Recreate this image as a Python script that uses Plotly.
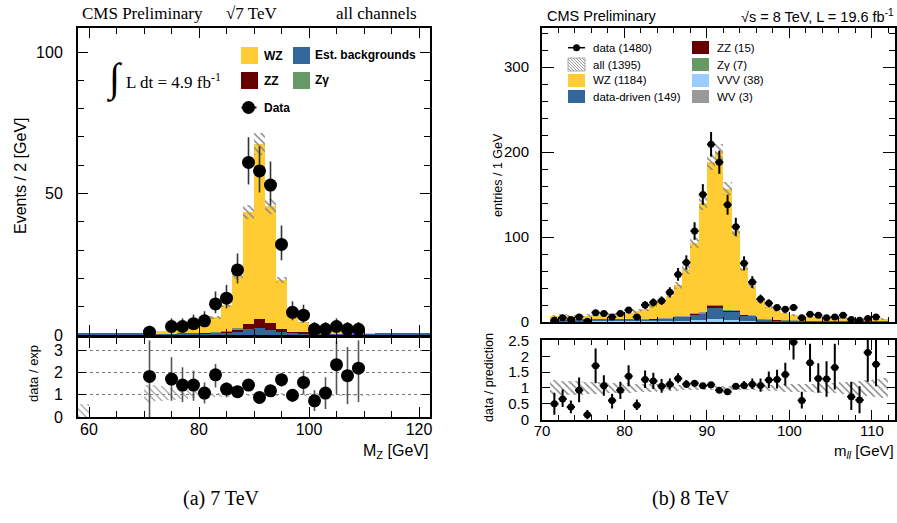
import plotly.graph_objects as go

W, H = 897, 523

# ---------------- (a) 7 TeV : bins of 2 GeV ----------------
a_centers = [59, 61, 63, 65, 67, 69, 71, 73, 75, 77, 79, 81, 83, 85, 87, 89, 91, 93,
             95, 97, 99, 101, 103, 105, 107, 109, 111, 113, 115, 117, 119, 121]
a_bkg = [0.4, 0.4, 0.4, 0.4, 0.4, 0.4, 0.4, 0.5, 0.5, 0.6, 0.6, 0.7, 0.8, 0.9, 1.1, 2.0,
         2.3, 1.8, 1.4, 0.9, 0.7, 0.6, 0.5, 0.5, 0.5, 0.4, 0.4, 0.4, 0.4, 0.4, 0.4, 0.4]
a_zz = [0, 0, 0, 0, 0, 0, 0, 0, 0, 0, 0, 0.1, 0.2, 0.5, 1.0, 1.9, 3.4, 2.4, 0.6, 0.3,
        0.2, 0.1, 0, 0, 0, 0, 0, 0, 0, 0, 0, 0]
a_zg = [0, 0, 0, 0, 0, 0, 0, 0, 0, 0, 0, 0, 0.1, 0.1, 0.2, 0.1, 0, 0, 0, 0, 0, 0, 0, 0,
        0, 0, 0, 0, 0, 0, 0, 0]
a_wz = [0, 0, 0, 0, 0, 0, 0.3, 1.0, 1.3, 1.6, 2.1, 3.5, 5.1, 9.0, 18.5, 39.5, 61.8, 41.3,
        17.5, 6.3, 3.6, 1.9, 1.3, 0.8, 0.5, 0.4, 0.1, 0, 0, 0, 0, 0]
a_unc = [0.06, 0.06, 0.06, 0.06, 0.06, 0.06, 0.06, 0.06, 0.06, 0.06, 0.06, 0.06, 0.06,
         0.06, 0.06, 0.06, 0.06, 0.06, 0.06, 0.06, 0.06, 0.06, 0.06, 0.06, 0.06, 0.06,
         0.06, 0.06, 0.06, 0.06, 0.06, 0.06]

a_data_x = [71, 75, 77, 79, 81, 83, 85, 87, 89, 91, 93, 95, 97, 99, 101, 103, 105, 107, 109]
a_data_y = [1, 3, 3, 4, 5, 11, 13, 23, 61, 58, 53, 32, 8, 7, 2, 2, 3, 2, 2]
a_data_up = [2.3, 2.9, 2.9, 3.2, 3.4, 4.4, 4.7, 5.8, 8.9, 8.7, 8.3, 6.7, 3.9, 3.7, 2.6, 2.6, 2.9, 2.6, 2.6]
a_data_dn = [0.8, 1.6, 1.6, 1.9, 2.2, 3.3, 3.6, 4.8, 7.8, 7.6, 7.3, 5.6, 2.8, 2.6, 1.3, 1.3, 1.6, 1.3, 1.3]

a_ratio_y = [1.83, 1.71, 1.44, 1.44, 1.08, 1.9, 1.26, 1.14, 1.44, 0.88, 1.18, 1.68, 0.98,
             1.56, 0.73, 1.08, 2.36, 1.86, 2.2]
a_ratio_up = [1.62, 0.99, 0.8, 0.65, 0.48, 0.49, 0.3, 0.27, 0.2, 0.15, 0.23, 0.29, 0.2,
              0.53, 0.48, 0.71, 1.09, 1.29, 1.25]
a_ratio_dn = [1.83, 0.98, 0.77, 0.71, 0.47, 0.57, 0.38, 0.26, 0.26, 0.15, 0.23, 0.32, 0.31,
              0.53, 0.46, 0.72, 1.33, 1.28, 1.53]

a_band_x = [59, 71, 73, 75, 77, 79, 81, 83, 85, 87, 89, 91, 93, 95, 97, 99, 101, 103, 105,
            107, 109, 111]
a_band_lo = [0.0, 0.65, 0.7, 0.75, 0.8, 0.84, 0.87, 0.9, 0.92, 0.94, 0.95, 0.95, 0.95, 0.94,
             0.94, 0.94, 0.94, 0.95, 0.95, 0.95, 0.96, 0.96]
a_band_hi = [0.6, 1.45, 1.4, 1.3, 1.25, 1.18, 1.14, 1.1, 1.08, 1.06, 1.05, 1.05, 1.05, 1.06,
             1.06, 1.06, 1.06, 1.05, 1.05, 1.05, 1.04, 1.04]

# ---------------- (b) 8 TeV : bins of 1 GeV ----------------
b_centers = [71.5, 72.5, 73.5, 74.5, 75.5, 76.5, 77.5, 78.5, 79.5, 80.5, 81.5, 82.5, 83.5,
             84.5, 85.5, 86.5, 87.5, 88.5, 89.5, 90.5, 91.5, 92.5, 93.5, 94.5, 95.5, 96.5,
             97.5, 98.5, 99.5, 100.5, 101.5, 102.5, 103.5, 104.5, 105.5, 106.5, 107.5,
             108.5, 109.5, 110.5, 111.5]
b_vvv = [0.5, 0.5, 0.5, 0.5, 0.6, 0.6, 0.6, 0.7, 0.7, 0.8, 0.8, 0.9, 1.0, 1.0, 1.2, 1.4,
         1.6, 2.0, 2.6, 3.5, 3.5, 2.6, 2.0, 1.6, 1.2, 1.0, 0.8, 0.7, 0.6, 0.5, 0.5, 0.4,
         0.4, 0.4, 0.3, 0.3, 0.3, 0.3, 0.3, 0.3, 0.3]
b_dd = [1, 2, 2, 2.5, 2.5, 3, 3, 3, 3, 3, 2.5, 2.5, 2.5, 3, 3, 4.5, 4.5, 7, 7, 14, 14, 10,
        10, 6, 6, 2, 2, 1.5, 1.5, 1.5, 1, 1, 1, 1, 1, 1, 0.5, 0.5, 0.5, 0.5, 0.5]
b_zz = [0, 0, 0, 0, 0, 0, 0, 0, 0, 0.1, 0.1, 0.1, 0.1, 0.2, 0.2, 0.3, 0.4, 0.6, 0.9, 1.8,
        1.8, 1.4, 1.0, 0.8, 0.6, 0.4, 0.3, 0.2, 0.2, 0.1, 0.1, 0.1, 0.1, 0.1, 0.1, 0, 0,
        0, 0, 0, 0]
b_zg = [0, 0, 0, 0, 0, 0, 0, 0.1, 0.1, 0.1, 0.1, 0.1, 0.1, 0.2, 0.2, 0.2, 0.3, 0.4, 0.5,
        0.7, 0.7, 0.5, 0.4, 0.3, 0.3, 0.2, 0.2, 0.1, 0.1, 0.1, 0.1, 0.1, 0, 0, 0, 0, 0,
        0, 0, 0, 0]
b_wv = [0, 0, 0, 0, 0, 0, 0, 0, 0, 0, 0.1, 0.1, 0.1, 0.1, 0.1, 0.1, 0.1, 0.2, 0.2, 0.2,
        0.2, 0.2, 0.2, 0.1, 0.1, 0.1, 0.1, 0.1, 0.1, 0.1, 0, 0, 0, 0, 0, 0, 0, 0, 0, 0, 0]
b_wz = [5.0, 5.0, 4.5, 4.5, 4.5, 4.5, 5.2, 5.7, 6.7, 7.0, 9.4, 11.8, 14.7, 19.0, 26.3,
        36.5, 55.1, 82.8, 128.8, 167.8, 179.8, 142.3, 93.4, 55.2, 33.8, 21.3, 14.6, 10.9,
        8.0, 5.7, 5.3, 4.4, 4.5, 3.5, 3.6, 3.2, 3.7, 3.2, 3.2, 3.2, 3.0]
b_unc = [0.24, 0.23, 0.22, 0.21, 0.2, 0.19, 0.18, 0.17, 0.16, 0.15, 0.14, 0.13, 0.12,
         0.11, 0.1, 0.09, 0.08, 0.07, 0.06, 0.05, 0.05, 0.05, 0.06, 0.07, 0.08, 0.09, 0.1,
         0.11, 0.12, 0.12, 0.13, 0.14, 0.15, 0.16, 0.17, 0.18, 0.2, 0.22, 0.25, 0.28, 0.32]

b_data_x = [71.5, 72.5, 73.5, 74.5, 75.5, 76.5, 77.5, 78.5, 79.5, 80.5, 81.5, 82.5, 83.5,
            84.5, 85.5, 86.5, 87.5, 88.5, 89.5, 90.5, 91.5, 92.5, 93.5, 94.5, 95.5, 96.5,
            97.5, 98.5, 99.5, 100.5, 101.5, 102.5, 103.5, 104.5, 105.5, 106.5, 107.5,
            108.5, 109.5, 110.5]
b_data_y = [2, 5, 3, 6, 1, 11, 10, 6, 10, 14, 6, 20, 23, 25, 35, 56, 70, 107, 150, 209,
            188, 138, 112, 69, 47, 27, 22, 17, 15, 17, 5, 9, 8, 5, 6, 8, 3, 2, 4, 6]
b_data_err = [1.4, 2.2, 1.7, 2.4, 1.0, 3.3, 3.2, 2.4, 3.2, 3.7, 2.4, 4.5, 4.8, 5.0, 5.9,
              7.5, 8.4, 10.3, 12.2, 14.5, 13.7, 11.7, 10.6, 8.3, 6.9, 5.2, 4.7, 4.1, 3.9,
              4.1, 2.2, 3.0, 2.8, 2.2, 2.4, 2.8, 1.7, 1.4, 2.0, 2.4]

b_ratio_x = [71.5, 72.5, 73.5, 74.5, 75.5, 76.5, 77.5, 78.5, 79.5, 80.5, 81.5, 82.5, 83.5,
             84.5, 85.5, 86.5, 87.5, 88.5, 89.5, 90.5, 91.5, 92.5, 93.5, 94.5, 95.5, 96.5,
             97.5, 98.5, 99.5, 100.5, 101.5, 102.5, 103.5, 104.5, 105.5, 107.5, 108.5,
             109.5, 110.5]
b_ratio_y = [0.5, 0.65, 0.4, 0.93, 0.15, 1.7, 1.07, 0.6, 0.93, 1.37, 0.45, 1.27, 1.22,
             1.05, 1.12, 1.3, 1.12, 1.15, 1.07, 1.1, 0.93, 0.88, 1.05, 1.08, 1.12, 1.08,
             1.25, 1.27, 1.43, 2.45, 0.6, 1.8, 1.3, 1.28, 1.65, 0.72, 0.62, 2.12, 1.75]
b_ratio_up = [0.35, 0.3, 0.2, 0.4, 0.15, 0.55, 0.33, 0.22, 0.27, 0.35, 0.18, 0.28, 0.26,
              0.23, 0.18, 0.17, 0.13, 0.1, 0.08, 0.08, 0.07, 0.07, 0.1, 0.14, 0.18, 0.22,
              0.27, 0.31, 0.37, 0.55, 0.28, 0.6, 0.48, 0.57, 0.75, 0.48, 0.43, 0.88, 0.8]
b_ratio_dn = [0.35, 0.25, 0.2, 0.38, 0.15, 0.55, 0.32, 0.25, 0.28, 0.32, 0.15, 0.27, 0.25,
              0.2, 0.17, 0.15, 0.12, 0.1, 0.08, 0.07, 0.06, 0.08, 0.09, 0.12, 0.15, 0.2,
              0.25, 0.29, 0.35, 0.55, 0.25, 0.6, 0.45, 0.56, 0.7, 0.42, 0.42, 0.92, 0.7]

# ---------------- colours ----------------
C_WZ = "#FFCC33"
C_ZZ = "#660000"
C_BKG = "#336699"
C_ZG = "#669966"
C_VVV = "#99CCFF"
C_WV = "#999999"
HATCH = dict(shape="\\", size=5, solidity=0.3, fgcolor="#8a8a8a", bgcolor="rgba(0,0,0,0)")
HATCH_L = dict(shape="\\", size=5, solidity=0.25, fgcolor="#a0a0a0", bgcolor="rgba(0,0,0,0)")


def addsum(*arrs):
    return [sum(v) for v in zip(*arrs)]


fig = go.Figure()


def stack_bar(x, base, h, color, width, xa, ya):
    fig.add_trace(go.Bar(x=x, y=h, base=base, width=width, marker=dict(color=color, line=dict(width=0)),
                         xaxis=xa, yaxis=ya, showlegend=False, hoverinfo="skip"))


# ---- (a) main stack ----
a_b1 = a_bkg
a_b2 = addsum(a_bkg, a_zz)
a_b3 = addsum(a_bkg, a_zz, a_zg)
a_tot = addsum(a_bkg, a_zz, a_zg, a_wz)
stack_bar(a_centers, [0] * len(a_centers), a_bkg, C_BKG, 2, "x", "y")
stack_bar(a_centers, a_b1, a_zz, C_ZZ, 2, "x", "y")
stack_bar(a_centers, a_b2, a_zg, C_ZG, 2, "x", "y")
stack_bar(a_centers, a_b3, a_wz, C_WZ, 2, "x", "y")
fig.add_trace(go.Bar(x=a_centers, y=[t * u * 2 for t, u in zip(a_tot, a_unc)],
                     base=[t * (1 - u) for t, u in zip(a_tot, a_unc)], width=2,
                     marker=dict(color="rgba(0,0,0,0)", line=dict(width=0), pattern=HATCH),
                     xaxis="x", yaxis="y", showlegend=False, hoverinfo="skip"))
fig.add_trace(go.Scatter(x=a_data_x, y=a_data_y, mode="markers", xaxis="x", yaxis="y",
                         marker=dict(color="black", size=13),
                         error_y=dict(type="data", symmetric=False, array=a_data_up,
                                      arrayminus=a_data_dn, width=0, thickness=1.6, color="#333"),
                         showlegend=False, hoverinfo="skip"))
# ---- (a) ratio ----
fig.add_trace(go.Bar(x=a_band_x, y=[h - l for h, l in zip(a_band_hi, a_band_lo)], base=a_band_lo,
                     width=2, marker=dict(color="rgba(0,0,0,0)", line=dict(width=0), pattern=HATCH_L),
                     xaxis="x2", yaxis="y2", showlegend=False, hoverinfo="skip"))
fig.add_trace(go.Scatter(x=a_data_x, y=a_ratio_y, mode="markers", xaxis="x2", yaxis="y2",
                         marker=dict(color="black", size=13),
                         error_y=dict(type="data", symmetric=False, array=a_ratio_up,
                                      arrayminus=a_ratio_dn, width=0, thickness=1.6, color="#555"),
                         showlegend=False, hoverinfo="skip"))

# ---- (b) main stack ----
b_parts = [(b_vvv, C_VVV), (b_dd, C_BKG), (b_zz, C_ZZ), (b_zg, C_ZG), (b_wv, C_WV), (b_wz, C_WZ)]
base = [0] * len(b_centers)
for arr, col in b_parts:
    stack_bar(b_centers, base, arr, col, 1, "x3", "y3")
    base = addsum(base, arr)
b_tot = base
fig.add_trace(go.Bar(x=b_centers, y=[t * u * 2 for t, u in zip(b_tot, b_unc)],
                     base=[t * (1 - u) for t, u in zip(b_tot, b_unc)], width=1,
                     marker=dict(color="rgba(0,0,0,0)", line=dict(width=0), pattern=HATCH),
                     xaxis="x3", yaxis="y3", showlegend=False, hoverinfo="skip"))
fig.add_trace(go.Scatter(x=b_data_x, y=b_data_y, mode="markers", xaxis="x3", yaxis="y3",
                         marker=dict(color="black", size=7),
                         error_y=dict(type="data", array=b_data_err, width=0, thickness=2, color="black"),
                         error_x=dict(type="constant", value=0.5, width=0, thickness=2, color="black"),
                         showlegend=False, hoverinfo="skip"))
# ---- (b) ratio ----
fig.add_trace(go.Bar(x=b_centers, y=[2 * u for u in b_unc], base=[1 - u for u in b_unc], width=1,
                     marker=dict(color="rgba(0,0,0,0)", line=dict(width=0), pattern=HATCH),
                     xaxis="x4", yaxis="y4", showlegend=False, hoverinfo="skip"))
fig.add_trace(go.Scatter(x=b_ratio_x, y=b_ratio_y, mode="markers", xaxis="x4", yaxis="y4",
                         marker=dict(color="black", size=7),
                         error_y=dict(type="data", symmetric=False, array=b_ratio_up,
                                      arrayminus=b_ratio_dn, width=0, thickness=2, color="black"),
                         error_x=dict(type="constant", value=0.5, width=0, thickness=2, color="black"),
                         showlegend=False, hoverinfo="skip"))


# ---------------- axes ----------------
def px(x):
    return x / W


def py(y):
    return 1 - y / H


SANS = "Liberation Sans"
SERIF = "Liberation Serif"

common = dict(showgrid=False, zeroline=False, showline=True, linewidth=2, linecolor="black",
              mirror="allticks", ticks="inside", tickcolor="black", tickwidth=1, automargin=False)

xa_dom = [px(78), px(430)]
xb_dom = [px(542), px(895)]

fig.update_layout(
    template="none",
    xaxis=dict(domain=xa_dom, range=[58, 122], anchor="y", showticklabels=False, tick0=60, dtick=20,
               ticklen=10, minor=dict(dtick=5, ticklen=6, ticks="inside", tickcolor="black"), **common),
    yaxis=dict(domain=[py(335), py(28)], range=[0, 108.5], anchor="x", dtick=50, ticklen=10,
               minor=dict(dtick=10, ticklen=6, ticks="inside", tickcolor="black"),
               tickfont=dict(family=SANS, size=16, color="black"), ticklabelstandoff=10, **common),
    xaxis2=dict(domain=xa_dom, range=[58, 122], anchor="y2", tick0=60, dtick=20, ticklen=10,
                minor=dict(dtick=5, ticklen=6, ticks="inside", tickcolor="black"),
                tickfont=dict(family=SANS, size=16, color="black"), ticklabelstandoff=-3, **common),
    yaxis2=dict(domain=[py(417), py(338)], range=[0, 3.56], anchor="x2", dtick=1, ticklen=8,
                tickfont=dict(family=SANS, size=16, color="black"), ticklabelstandoff=10,
                **{**common, "showgrid": True}, gridcolor="#777", griddash="dot", gridwidth=1),
    xaxis3=dict(domain=xb_dom, range=[70, 112.8], anchor="y3", showticklabels=False, dtick=10,
                ticklen=10, minor=dict(dtick=2, ticklen=5, ticks="inside", tickcolor="black"), **common),
    yaxis3=dict(domain=[py(322), py(28)], range=[0, 345.9], anchor="x3", dtick=100, ticklen=12,
                minor=dict(dtick=20, ticklen=6, ticks="inside", tickcolor="black"),
                tickfont=dict(family=SANS, size=15, color="black"), ticklabelstandoff=8, **common),
    xaxis4=dict(domain=xb_dom, range=[70, 112.8], anchor="y4", dtick=10, ticklen=10,
                minor=dict(dtick=2, ticklen=5, ticks="inside", tickcolor="black"),
                tickfont=dict(family=SANS, size=15, color="black"), ticklabelstandoff=-4, **common),
    yaxis4=dict(domain=[py(419.5), py(340)], range=[0, 2.52], anchor="x4", dtick=0.5, ticklen=8,
                tickfont=dict(family=SANS, size=15, color="black"), ticklabelstandoff=8, **common),
    barmode="overlay",
    bargap=0,
    showlegend=False,
    width=W, height=H,
    margin=dict(l=0, r=0, t=0, b=0, pad=0, autoexpand=False),
    paper_bgcolor="white", plot_bgcolor="white",
)

# ---------------- texts ----------------
anns = []


def ann(text, x, y, size, family=SANS, xanchor="left", yanchor="middle", angle=0, color="black"):
    anns.append(dict(text=text, x=px(x), y=py(y), xref="paper", yref="paper", showarrow=False,
                     xanchor=xanchor, yanchor=yanchor, textangle=angle,
                     font=dict(family=family, size=size, color=color)))


# (a) header
ann("CMS Preliminary", 80, 13, 17, SERIF)
ann("√7 TeV", 224, 13, 17, SERIF)
ann("all channels", 419, 13, 17, SERIF, xanchor="right")
ann("∫", 114, 78, 40, SERIF, xanchor="center")
ann("L dt = 4.9 fb<sup>-1</sup>", 124, 81, 17, SERIF)
# (a) legend labels
ann("<b>WZ</b>", 262, 56, 12)
ann("<b>Est. backgrounds</b>", 313, 55, 12)
ann("<b>ZZ</b>", 262, 81, 12)
ann("<b>Zγ</b>", 313, 80, 12)
ann("<b>Data</b>", 262, 108, 12)
# (a) axis titles
ann("Events / 2 [GeV]", 20, 176, 16, xanchor="center", angle=-90)
ann("data / exp", 33, 374, 13, xanchor="center", angle=-90)
ann("M<sub>Z</sub> [GeV]", 431, 451, 16, xanchor="right")

# (b) header
ann("CMS Preliminary", 545, 16, 14.5)
ann("√s = 8 TeV, L = 19.6 fb<sup>-1</sup>", 896, 16, 14.5, xanchor="right")
# (b) legend labels
for txt, x, y in [("data (1480)", 591, 48), ("all (1395)", 591, 64.5), ("WZ (1184)", 591, 80.5),
                  ("data-driven (149)", 591, 96.5), ("ZZ (15)", 715, 48), ("Zγ (7)", 715, 64.5),
                  ("VVV (38)", 715, 80.5), ("WV (3)", 715, 96.5)]:
    ann(txt, x, y, 11.5)
# (b) axis titles
ann("entries / 1 GeV", 498, 175, 12.5, xanchor="center", angle=-90)
ann("data / prediction", 489, 378, 12.5, xanchor="center", angle=-90)
ann("m<sub><i>ll</i></sub> [GeV]", 896, 451, 15, xanchor="right")

# captions
ann("(a) 7 TeV", 221, 498, 20, SERIF, xanchor="center")
ann("(b) 8 TeV", 691, 498, 20, SERIF, xanchor="center")

# ---------------- legend swatches (layout decoration) ----------------
shapes = []


def rect(x0, y0, x1, y1, color, line=None):
    shapes.append(dict(type="rect", xref="paper", yref="paper", x0=px(x0), x1=px(x1), y0=py(y1), y1=py(y0),
                       fillcolor=color, line=dict(width=0 if line is None else 1,
                                                  color=line if line else color), layer="above"))


def seg(x0, y0, x1, y1, color, width):
    shapes.append(dict(type="line", xref="paper", yref="paper", x0=px(x0), y0=py(y0), x1=px(x1), y1=py(y1),
                       line=dict(color=color, width=width), layer="above"))


def circ(cx, cy, d, color):
    shapes.append(dict(type="circle", xref="paper", yref="paper", x0=px(cx - d / 2), x1=px(cx + d / 2),
                       y0=py(cy + d / 2), y1=py(cy - d / 2), fillcolor=color, line=dict(width=0),
                       layer="above"))


def hatch_box(x0, y0, x1, y1):
    rect(x0, y0, x1, y1, "white", line="#aaa")
    h = y1 - y0
    s = -h
    while s < (x1 - x0):
        sx, sy = x0 + s, y0
        ex, ey = x0 + s + h, y1
        if sx < x0:
            sy += x0 - sx
            sx = x0
        if ex > x1:
            ey -= ex - x1
            ex = x1
        seg(sx, sy, ex, ey, "#999", 1)
        s += 3


# (a) legend
rect(241, 47, 258, 64, C_WZ)
rect(293, 47, 310, 64, C_BKG)
rect(241, 72, 258, 89, C_ZZ)
rect(293, 72, 310, 89, C_ZG)
seg(241.5, 107.5, 256.5, 107.5, "black", 2)
circ(248.5, 107.5, 13, "black")
# (b) legend
seg(568, 47.7, 585, 47.7, "black", 1.5)
circ(576.5, 47.7, 7, "black")
hatch_box(568, 58, 585, 71)
rect(568, 74, 585, 87, C_WZ)
rect(568, 90, 585, 103, C_BKG)
rect(692, 41, 709, 54, C_ZZ)
rect(692, 58, 709, 71, C_ZG)
rect(692, 74, 709, 87, C_VVV)
rect(692, 90, 709, 103, C_WV)

fig.update_layout(annotations=anns, shapes=shapes)

fig.write_html("out.html")
